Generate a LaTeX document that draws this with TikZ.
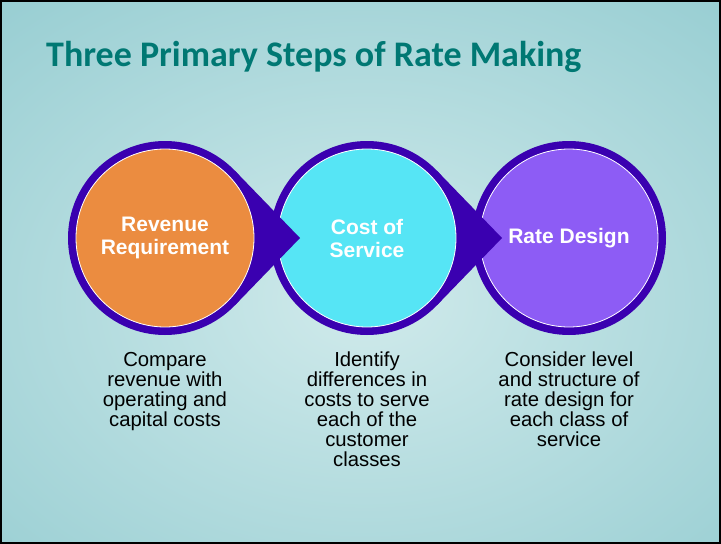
\documentclass[tikz,border=0pt]{standalone}
\usepackage{fontspec}
\setmainfont{Liberation Sans}
\newfontfamily\titlefont{Carlito}
\usetikzlibrary{calc}
\definecolor{ringpurple}{RGB}{58,0,176}
\definecolor{revorange}{RGB}{235,140,64}
\definecolor{coscyan}{RGB}{86,229,245}
\definecolor{rdviolet}{RGB}{141,92,245}
\definecolor{titleteal}{RGB}{0,120,115}
\definecolor{bglight}{RGB}{208,234,235}
\definecolor{bgdark}{RGB}{96,178,186}
\begin{document}
\begin{tikzpicture}[x=1pt,y=-1pt,
		ring/.style={fill=ringpurple},
		disc/.style={circle,draw=white,line width=0.8pt,fill=#1,minimum size=178pt,inner sep=0pt,text=white,align=center,font=\bfseries\fontsize{21}{23}\selectfont},
		note/.style={anchor=north,align=center,inner sep=0pt,font=\fontsize{20.3}{20}\selectfont}]
	\useasboundingbox (0,0) rectangle (721,544);
	% background
	\begin{scope}
		\clip (0,0) rectangle (721,544);
		\shade[inner color=bglight,outer color=bgdark] (365,300) ellipse (1100 and 800);
	\end{scope}
	\draw[line width=2] (1,1) rectangle (720,543);
	\node[anchor=base west,inner sep=0pt,text=titleteal,font=\titlefont\bfseries\fontsize{36}{40}\selectfont] (title) at (46,66) {Three Primary Steps of Rate Making};
	\coordinate (c1) at (165,238);
	\coordinate (c2) at (367,238);
	\coordinate (c3) at (569,238);
	% third step
	\fill[ring] (c3) circle (97);
	\node[disc=rdviolet] (rd) at (c3) {Rate Design};
	% second step, its tip over the third
	\coordinate (tip2) at ($(c2)+(135,0)$);
	\fill[ring] (c2) circle (97);
	\fill[ring] (c2) -- ($(c2)+(44:97)$) -- (tip2) -- ($(c2)+(-44:97)$) -- cycle;
	\node[disc=coscyan] (cos) at (c2) {Cost of\\Service};
	% first step, its tip over the second
	\coordinate (tip1) at ($(c1)+(135,0)$);
	\fill[ring] (c1) circle (97);
	\fill[ring] (c1) -- ($(c1)+(44:97)$) -- (tip1) -- ($(c1)+(-44:97)$) -- cycle;
	\node[disc=revorange] (rev) at (c1) {Revenue\\Requirement};
	% notes
	\node[note] (revnote) at (165,352) {Compare\\revenue with\\operating and\\capital costs};
	\node[note] (cosnote) at (367,352) {Identify\\differences in\\costs to serve\\each of the\\customer\\classes};
	\node[note] (rdnote) at (569,352) {Consider level\\and structure of\\rate design for\\each class of\\service};
\end{tikzpicture}
\end{document}
